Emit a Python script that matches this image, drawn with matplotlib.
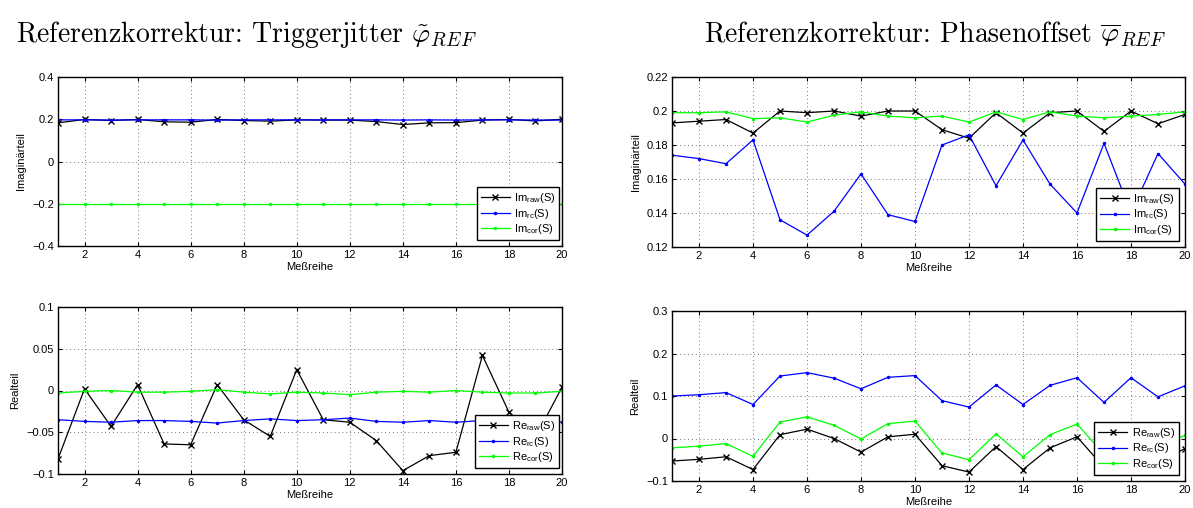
import matplotlib
matplotlib.use("Agg")
import matplotlib.pyplot as plt

plt.rcParams['font.family'] = ['Liberation Sans', 'DejaVu Sans']
plt.rcParams['mathtext.fontset'] = 'custom'
plt.rcParams['mathtext.rm'] = 'Liberation Sans'
plt.rcParams['mathtext.it'] = 'Liberation Sans:italic'

# Measurement series index
series = list(range(1, 21))

# --- Reference correction: trigger jitter ---
im_raw_tj = [0.183, 0.199, 0.194, 0.199, 0.188, 0.186, 0.199, 0.194, 0.191, 0.197,
             0.196, 0.196, 0.189, 0.175, 0.183, 0.184, 0.196, 0.199, 0.192, 0.200]
im_rc_tj = [0.197, 0.197, 0.196, 0.197, 0.197, 0.197, 0.196, 0.197, 0.197, 0.197,
            0.197, 0.197, 0.197, 0.196, 0.197, 0.196, 0.197, 0.197, 0.196, 0.196]
im_cor_tj = [-0.200] * 20
re_raw_tj = [-0.082, 0.002, -0.043, 0.007, -0.064, -0.065, 0.007, -0.035, -0.055, 0.025,
             -0.035, -0.038, -0.060, -0.096, -0.078, -0.074, 0.042, -0.026, -0.056, 0.004]
re_rc_tj = [-0.035, -0.037, -0.038, -0.036, -0.036, -0.037, -0.039, -0.036, -0.034, -0.036,
            -0.035, -0.033, -0.037, -0.038, -0.036, -0.038, -0.036, -0.037, -0.037, -0.038]
re_cor_tj = [-0.003, -0.001, 0.000, -0.002, -0.002, -0.001, 0.001, -0.002, -0.004, -0.002,
             -0.003, -0.005, -0.002, -0.001, -0.002, 0.000, -0.002, -0.003, -0.003, -0.001]

# --- Reference correction: phase offset ---
im_raw_po = [0.193, 0.194, 0.195, 0.187, 0.200, 0.199, 0.200, 0.197, 0.200, 0.200,
             0.189, 0.184, 0.199, 0.187, 0.199, 0.200, 0.188, 0.200, 0.1925, 0.198]
im_rc_po = [0.174, 0.172, 0.169, 0.183, 0.136, 0.127, 0.141, 0.163, 0.139, 0.135,
            0.180, 0.186, 0.156, 0.183, 0.157, 0.140, 0.181, 0.140, 0.175, 0.157]
im_cor_po = [0.199, 0.199, 0.1995, 0.1955, 0.196, 0.1935, 0.1975, 0.1995, 0.197, 0.196,
             0.197, 0.1935, 0.1995, 0.195, 0.1995, 0.197, 0.196, 0.197, 0.198, 0.1995]
re_raw_po = [-0.053, -0.049, -0.043, -0.073, 0.009, 0.022, 0.000, -0.032, 0.004, 0.010,
             -0.064, -0.079, -0.019, -0.073, -0.022, 0.004, -0.068, -0.006, -0.054, -0.024]
re_rc_po = [0.100, 0.103, 0.108, 0.080, 0.147, 0.155, 0.142, 0.117, 0.144, 0.148,
            0.089, 0.074, 0.126, 0.080, 0.125, 0.143, 0.085, 0.143, 0.098, 0.124]
re_cor_po = [-0.022, -0.018, -0.012, -0.042, 0.039, 0.051, 0.031, -0.001, 0.035, 0.041,
             -0.034, -0.050, 0.011, -0.043, 0.009, 0.034, -0.037, 0.028, -0.024, 0.008]

xticks = [2, 4, 6, 8, 10, 12, 14, 16, 18, 20]

yt_im_tj = [-0.4, -0.2, 0, 0.2, 0.4]
yl_im_tj = ['\u22120.4', '\u22120.2', '0', '0.2', '0.4']
yt_re_tj = [-0.1, -0.05, 0, 0.05, 0.1]
yl_re_tj = ['\u22120.1', '\u22120.05', '0', '0.05', '0.1']
yt_im_po = [0.12, 0.14, 0.16, 0.18, 0.2, 0.22]
yl_im_po = ['0.12', '0.14', '0.16', '0.18', '0.2', '0.22']
yt_re_po = [-0.1, 0, 0.1, 0.2, 0.3]
yl_re_po = ['\u22120.1', '0', '0.1', '0.2', '0.3']

W, H = 1193, 508
fig = plt.figure(figsize=(W / 100, H / 100), dpi=100)


def px_axes(x0, x1, y0, y1):
    return fig.add_axes([x0 / W, 1 - y1 / H, (x1 - x0) / W, (y1 - y0) / H])


BLUE = '#0000ff'
GREEN = '#00ff00'
FS = 8


def panel(ax, raw, rc, cor, prefix, yticks, ylabels, ylabel, legend_loc):
    ax.plot(series, raw, color='black', marker='x', markersize=5, lw=0.9,
            label=prefix + r'$_{\mathrm{raw}}$(S)')
    ax.plot(series, rc, color=BLUE, marker='.', markersize=3, lw=0.9,
            label=prefix + r'$_{\mathrm{rc}}$(S)')
    ax.plot(series, cor, color=GREEN, marker='.', markersize=3, lw=0.9,
            label=prefix + r'$_{\mathrm{cor}}$(S)')
    ax.set_xlim(1, 20)
    ax.set_ylim(yticks[0], yticks[-1])
    ax.set_xticks(xticks)
    ax.set_xticklabels([str(t) for t in xticks], fontsize=FS)
    ax.set_yticks(yticks)
    ax.set_yticklabels(ylabels, fontsize=FS)
    ax.grid(True, color='0.45', linestyle=(0, (1, 3)), linewidth=0.7)
    ax.tick_params(direction='in', top=True, right=True, length=3, width=0.8, pad=3)
    for s in ax.spines.values():
        s.set_linewidth(1.0)
    ax.set_xlabel('Meßreihe', fontsize=FS, labelpad=1)
    ax.set_ylabel(ylabel, fontsize=FS, labelpad=4)
    leg = ax.legend(loc='lower right', bbox_to_anchor=legend_loc, fontsize=FS,
                    fancybox=False, framealpha=1, edgecolor='black',
                    handlelength=2.6, handletextpad=0.4, borderpad=0.35,
                    labelspacing=0.15, borderaxespad=0.0, numpoints=1)
    leg.get_frame().set_linewidth(1.0)


ax1 = px_axes(58, 562, 77, 246)
panel(ax1, im_raw_tj, im_rc_tj, im_cor_tj, 'Im', yt_im_tj, yl_im_tj, 'Imaginärteil',
      (0.995, 0.035))
ax2 = px_axes(58, 562, 307, 474)
panel(ax2, re_raw_tj, re_rc_tj, re_cor_tj, 'Re', yt_re_tj, yl_re_tj, 'Realteil',
      (0.995, 0.035))
ax3 = px_axes(672, 1185, 77, 247)
panel(ax3, im_raw_po, im_rc_po, im_cor_po, 'Im', yt_im_po, yl_im_po, 'Imaginärteil',
      (0.988, 0.035))
ax4 = px_axes(672, 1185, 311, 481)
panel(ax4, re_raw_po, re_rc_po, re_cor_po, 'Re', yt_re_po, yl_re_po, 'Realteil',
      (0.988, 0.035))

title_kw = dict(fontsize=20, family='cmr10', va='center', ha='left',
                math_fontfamily='cm')
fig.text(16 / W, 1 - 34 / H, r'Referenzkorrektur: Triggerjitter $\tilde{\varphi}_{REF}$',
         **title_kw)
fig.text(704 / W, 1 - 34 / H, r'Referenzkorrektur: Phasenoffset $\overline{\varphi}_{REF}$',
         **title_kw)

fig.savefig('out.png', dpi=100)
